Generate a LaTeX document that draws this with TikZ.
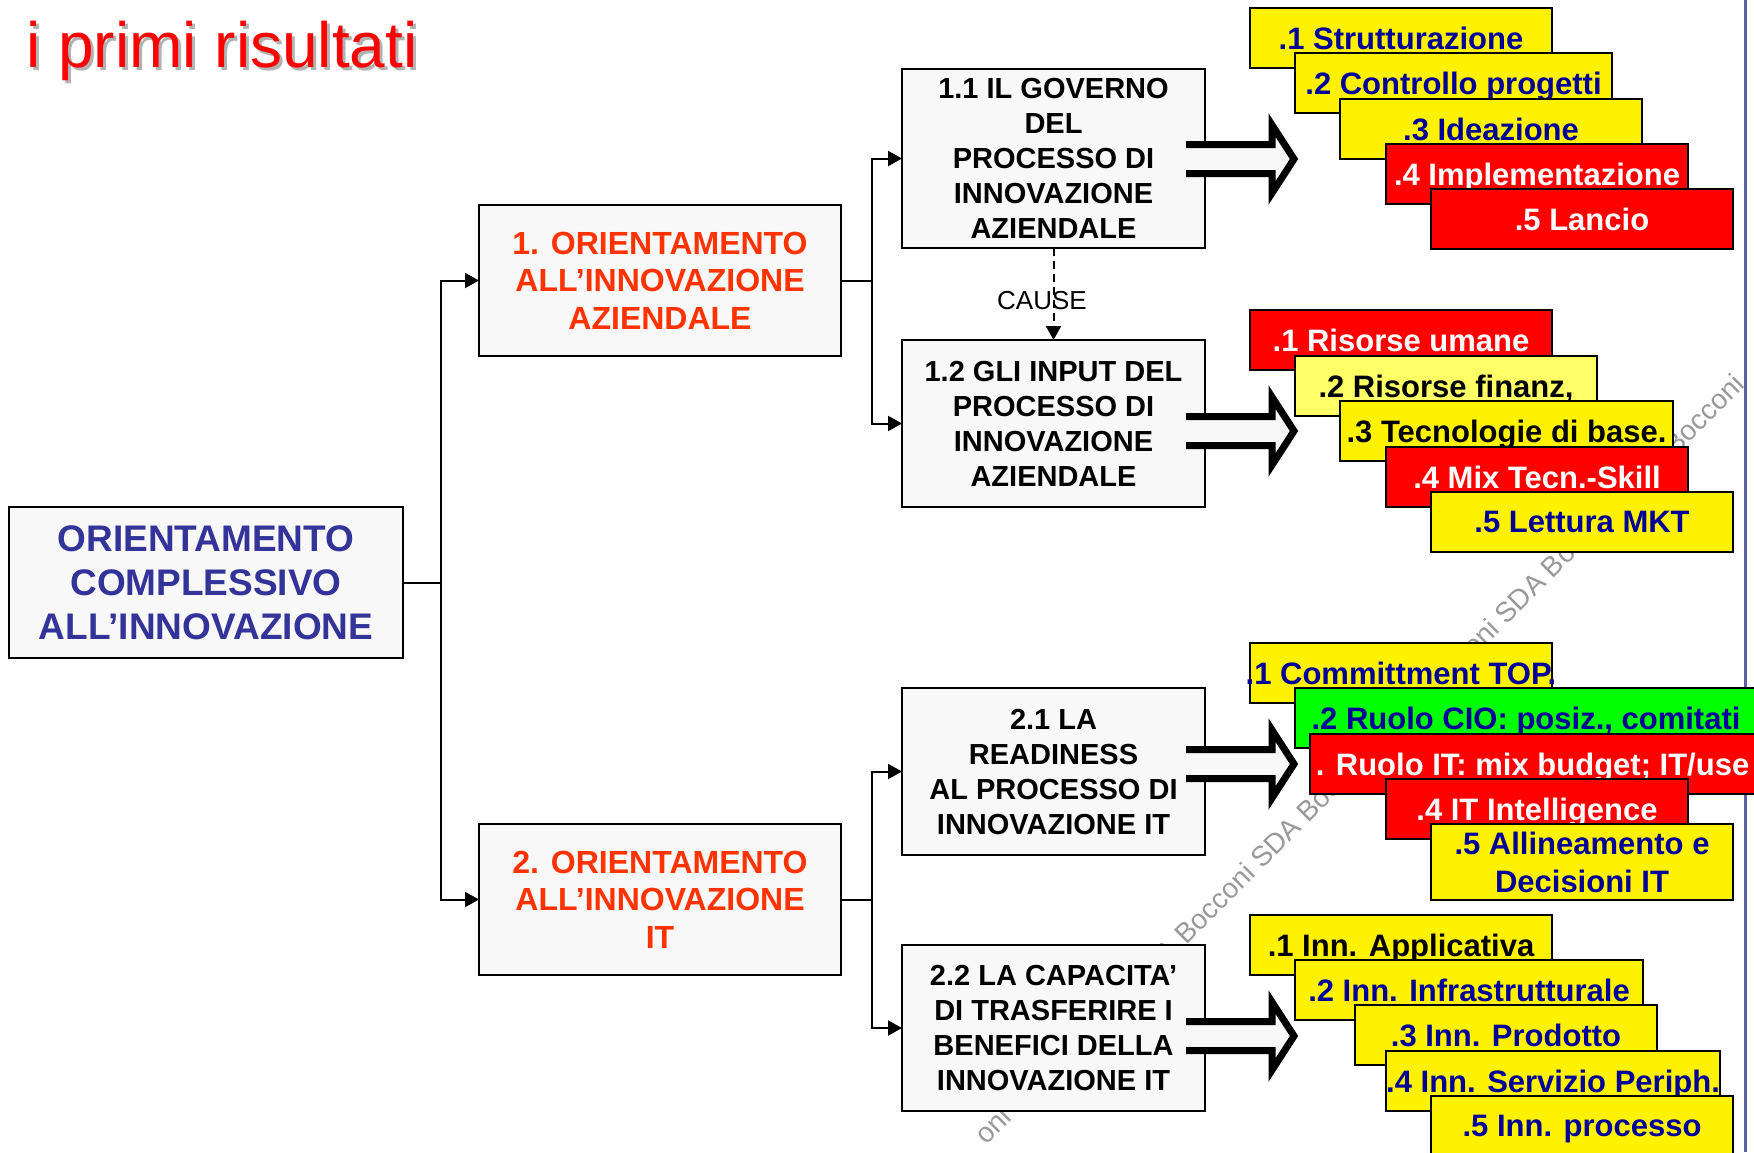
\documentclass[tikz,border=0pt]{standalone}
\usepackage{fontspec}
\setmainfont{Liberation Sans}
\usetikzlibrary{arrows.meta}

\definecolor{boxgray}{RGB}{248,248,248}
\definecolor{itemblue}{RGB}{0,0,153}
\definecolor{rootblue}{RGB}{51,51,153}
\definecolor{orangered}{RGB}{255,51,0}
\definecolor{paleyellow}{RGB}{255,255,102}
\definecolor{sideblue}{RGB}{96,96,165}
\newcommand{\boxtxt}[1]{\makebox[0pt]{#1}}

\begin{document}
\begin{tikzpicture}[x=0.5pt,y=-0.5pt,
  mainbox/.style={draw=black, line width=1.2pt, fill=boxgray, align=center, inner sep=0pt, outer sep=0pt, font=\bfseries\fontsize{14.5}{17.5}\selectfont},
  stepitem/.style={draw=black, line width=1pt, anchor=north west, inner sep=0pt, outer sep=0pt, minimum width=151pt, minimum height=30pt, text depth=0pt, font=\bfseries\fontsize{15.5}{19}\selectfont},
  conn/.style={line width=1pt, -{Triangle[length=7pt,width=7.5pt]}},
  fatline/.style={line width=3.5pt, black}]
\useasboundingbox (0,0) rectangle (1754,1152);
\clip (0,0) rectangle (1754,1152);
\fill[white] (0,0) rectangle (1754,1152);

\node[rotate=45, anchor=base west, inner sep=0pt, text=black!40, font=\fontsize{14}{14}\selectfont] (wmark) at (986,1146) {oni SDA Bocconi SDA Bocconi SDA Bocconi SDA Bocconi SDA Bocconi SDA Bocconi};
\draw[sideblue, line width=1.5pt] (1745,0) -- (1745,1152);

\node[anchor=base west, inner sep=0pt, text=black!30, font=\fontsize{32}{32}\selectfont] (titleshadow) at (29,70) {i primi risultati};
\node[anchor=base west, inner sep=0pt, text=red, font=\fontsize{32}{32}\selectfont] (title) at (26,67) {i primi risultati};

\node[mainbox, minimum width=197pt, minimum height=75.5pt, text=rootblue, font=\bfseries\fontsize{18.5}{22}\selectfont] (root) at (206,582.5) {ORIENTAMENTO\\COMPLESSIVO\\ALL’INNOVAZIONE};
\node[mainbox, minimum width=181pt, minimum height=75.5pt, text=orangered, font=\bfseries\fontsize{16}{18.75}\selectfont] (b1) at (660,280.5) {1. ORIENTAMENTO\\ALL’INNOVAZIONE\\AZIENDALE};
\node[mainbox, minimum width=181pt, minimum height=75.5pt, text=orangered, font=\bfseries\fontsize{16}{18.75}\selectfont] (b2) at (660,899.5) {2. ORIENTAMENTO\\ALL’INNOVAZIONE\\IT};
\node[mainbox, minimum width=151.5pt, minimum height=89.5pt] (b11) at (1053.5,158.5) {1.1 IL GOVERNO\\DEL\\PROCESSO DI\\INNOVAZIONE\\AZIENDALE};
\node[mainbox, minimum width=151.5pt, minimum height=83.5pt] (b12) at (1053.5,423.5) {1.2 GLI INPUT DEL\\PROCESSO DI\\INNOVAZIONE\\AZIENDALE};
\node[mainbox, minimum width=151.5pt, minimum height=83.5pt] (b21) at (1053.5,771.5) {2.1 LA\\READINESS\\AL PROCESSO DI\\INNOVAZIONE IT};
\node[mainbox, minimum width=151.5pt, minimum height=83pt] (b22) at (1053.5,1028) {2.2 LA CAPACITA’\\DI TRASFERIRE I\\BENEFICI DELLA\\INNOVAZIONE IT};

\draw[conn] (root.east) -- ++(38,0) |- (b1.west);
\draw[conn] (root.east) -- ++(38,0) |- (b2.west);
\draw[conn] (b1.east) -- ++(31,0) |- (b11.west);
\draw[conn] (b1.east) -- ++(31,0) |- (b12.west);
\draw[conn] (b2.east) -- ++(31,0) |- (b21.west);
\draw[conn] (b2.east) -- ++(31,0) |- (b22.west);
\draw[conn, dash pattern=on 4pt off 2.5pt] (b11.south) -- (b12.north);
\node[font=\fontsize{13}{13}\selectfont] (cause) at (1042,301) {CAUSE};

\fill[boxgray] (1186,144.5) -- (1272,144.5) -- (1272,125) -- (1294,159) -- (1272,193) -- (1272,173.5) -- (1186,173.5) -- cycle;
\draw[fatline] (1186,144.5) -- (1272,144.5) -- (1272,125) -- (1294,159) -- (1272,193) -- (1272,173.5) -- (1186,173.5);
\fill[boxgray] (1186,416.5) -- (1272,416.5) -- (1272,397) -- (1294,431) -- (1272,465) -- (1272,445.5) -- (1186,445.5) -- cycle;
\draw[fatline] (1186,416.5) -- (1272,416.5) -- (1272,397) -- (1294,431) -- (1272,465) -- (1272,445.5) -- (1186,445.5);
\fill[boxgray] (1186,749.5) -- (1272,749.5) -- (1272,730) -- (1294,764) -- (1272,798) -- (1272,778.5) -- (1186,778.5) -- cycle;
\draw[fatline] (1186,749.5) -- (1272,749.5) -- (1272,730) -- (1294,764) -- (1272,798) -- (1272,778.5) -- (1186,778.5);
\fill[boxgray] (1186,1021.5) -- (1272,1021.5) -- (1272,1002) -- (1294,1036) -- (1272,1070) -- (1272,1050.5) -- (1186,1050.5) -- cycle;
\draw[fatline] (1186,1021.5) -- (1272,1021.5) -- (1272,1002) -- (1294,1036) -- (1272,1070) -- (1272,1050.5) -- (1186,1050.5);

\node[stepitem, fill=yellow, text=itemblue] (g1a) at (1250,8) {\boxtxt{.1 Strutturazione}};
\node[stepitem, fill=yellow, text=itemblue, minimum width=158.5pt] (g1b) at (1295,53) {\boxtxt{.2 Controllo progetti}};
\node[stepitem, fill=yellow, text=itemblue] (g1c) at (1340,99) {\boxtxt{.3 Ideazione}};
\node[stepitem, fill=red, text=white] (g1d) at (1386,144) {\boxtxt{.4 Implementazione}};
\node[stepitem, fill=red, text=white] (g1e) at (1431,189) {\boxtxt{.5 Lancio}};

\node[stepitem, fill=red, text=white] (g2a) at (1250,310) {\boxtxt{.1 Risorse umane}};
\node[stepitem, fill=paleyellow, text=black] (g2b) at (1295,356) {\boxtxt{.2 Risorse finanz,}};
\node[stepitem, fill=yellow, text=black, minimum width=166.5pt] (g2c) at (1340,401) {\boxtxt{.3 Tecnologie di base.}};
\node[stepitem, fill=red, text=white] (g2d) at (1386,447) {\boxtxt{.4 Mix Tecn.-Skill}};
\node[stepitem, fill=yellow, text=itemblue] (g2e) at (1431,492) {\boxtxt{.5 Lettura MKT}};

\node[stepitem, fill=yellow, text=itemblue] (g3a) at (1250,643) {\boxtxt{.1 Committment TOP.}};
\node[stepitem, fill=green, text=itemblue, minimum width=231pt] (g3b) at (1295,688) {\boxtxt{.2 Ruolo CIO: posiz., comitati}};
\node[stepitem, fill=red, text=white, minimum width=222.5pt] (g3c) at (1310,734) {\boxtxt{. Ruolo IT: mix budget; IT/use}};
\node[stepitem, fill=red, text=white] (g3d) at (1386,779) {\boxtxt{.4 IT Intelligence}};
\node[stepitem, fill=yellow, text=itemblue, minimum height=38pt, text depth=, align=center] (g3e) at (1431,824) {.5 Allineamento e\\Decisioni IT};

\node[stepitem, fill=yellow, text=black] (g4a) at (1250,915) {\boxtxt{.1 Inn. Applicativa}};
\node[stepitem, fill=yellow, text=itemblue, minimum width=174pt] (g4b) at (1295,960) {\boxtxt{.2 Inn. Infrastrutturale}};
\node[stepitem, fill=yellow, text=itemblue] (g4c) at (1355,1005) {\boxtxt{.3 Inn. Prodotto}};
\node[stepitem, fill=yellow, text=itemblue, minimum width=167pt] (g4d) at (1386,1051) {\boxtxt{.4 Inn. Servizio Periph.}};
\node[stepitem, fill=yellow, text=itemblue] (g4e) at (1431,1096) {\boxtxt{.5 Inn. processo}};
\end{tikzpicture}
\end{document}
